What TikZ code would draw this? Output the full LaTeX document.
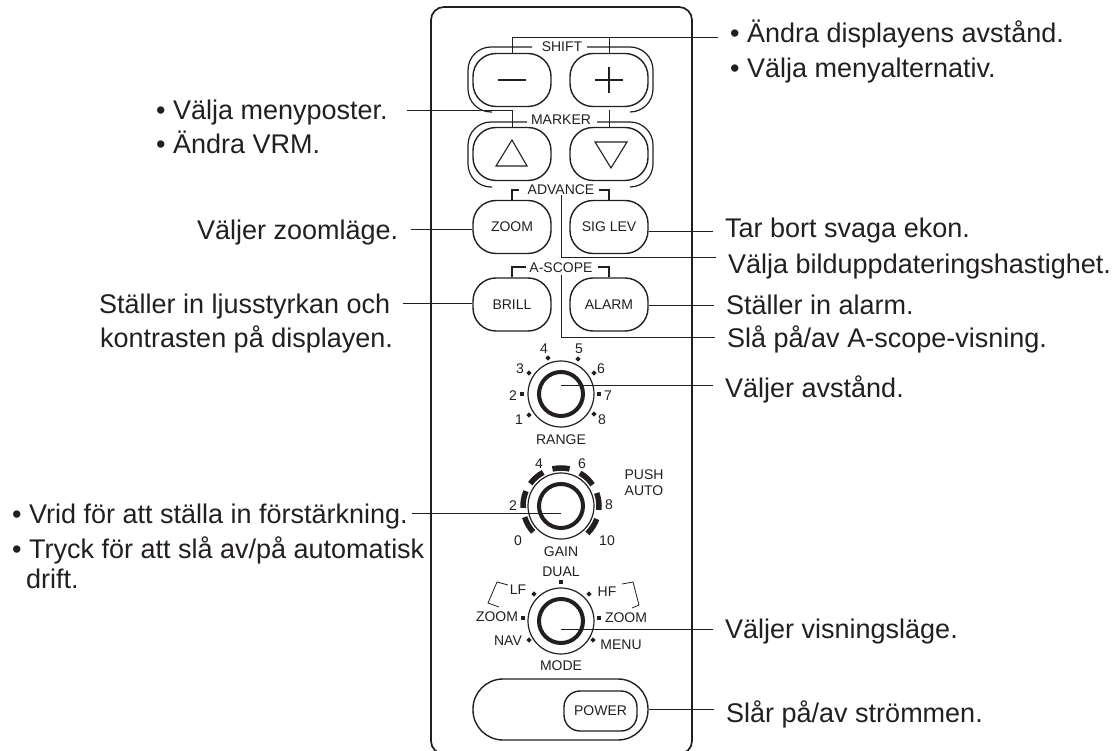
\documentclass[tikz,border=0pt]{standalone}
\usepackage{fontspec}
\setmainfont{Liberation Sans}
\definecolor{ink}{HTML}{231F20}
\tikzset{
    panel/.style={ink, line width=1.7pt, rounded corners=13pt},
    keybox/.style={draw=ink, line width=1.4pt, rounded corners=23pt, inner sep=0pt, minimum width=78pt, minimum height=53pt, text=ink, font=\fontsize{14}{16}\selectfont},
    ring/.style={ink, line width=1.2pt, rounded corners=23pt},
    bracket/.style={ink, line width=1.2pt},
    callout/.style={ink, line width=0.8pt},
    lbl/.style={inner sep=0pt, text=ink, font=\fontsize{14}{16}\selectfont},
    txt/.style={anchor=base west, inner ysep=0pt, inner xsep=12pt, text=ink, font=\fontsize{27}{30}\selectfont},
}
\begin{document}
\begin{tikzpicture}[x=1pt, y=-1pt]
    \clip (0,0) rectangle (1119,751);
    \draw[panel] (431,7) rectangle (692,754);

    % keys
    \node[keybox] (minusKey) at (512,80) {};
    \node[keybox] (plusKey) at (609,80) {};
    \node[keybox] (upKey) at (512,154) {};
    \node[keybox] (downKey) at (609,154) {};
    \node[keybox] (zoomKey) at (512,227) {ZOOM};
    \node[keybox] (sigKey) at (609,227) {SIG LEV};
    \node[keybox] (brillKey) at (512,304.5) {BRILL};
    \node[keybox] (alarmKey) at (609,304.5) {ALARM};
    \node[keybox, minimum width=175pt, minimum height=61pt, rounded corners=30pt] (powerBox) at (560.5,709.5) {};
    \node[keybox, minimum width=73pt, minimum height=40pt, rounded corners=16pt] (powerKey) at (600.5,711) {POWER};

    \foreach \y/\l/\r in {47/532/587,122/527/597}{
        \draw[ring] (\l,\y) -- (468,\y) -- (468,\y+65) -- (492,\y+65);
        \draw[ring] (\r,\y) -- (653,\y) -- (653,\y+65) -- (630,\y+65);
    }
    \draw[ink, line width=1.1pt] (498,80) -- (526,80);
    \draw[ink, line width=1.1pt] (595,80) -- (623,80) (609,67) -- (609,93);
    \draw[ink, line width=1.1pt] (512,140) -- (527,166) -- (496,166) -- cycle;
    \draw[ink, line width=1.1pt] (595,142) -- (627,142) -- (611,168) -- cycle;

    % group names
    \node[lbl] (shiftLbl) at (562,47) {SHIFT};
    \node[lbl] (markerLbl) at (561,120) {MARKER};
    \node[lbl] (advanceLbl) at (561,190) {ADVANCE};
    \node[lbl] (ascopeLbl) at (561,268) {A-SCOPE};
    \draw[bracket] (zoomKey.north) |- (519,190);
    \draw[bracket] (sigKey.north) |- (599,190);
    \draw[bracket] (brillKey.north) |- (526,267);
    \draw[bracket] (alarmKey.north) |- (598,267);

    % dials
    \coordinate (rangeC) at (561,394);
    \coordinate (gainC) at (561,506);
    \coordinate (modeC) at (561,621);
    \foreach \c in {rangeC,gainC,modeC}{
        \draw[ink, line width=1.2pt] (\c) circle (33pt);
        \draw[ink, line width=4pt] (\c) circle (22pt);
    }
    \foreach \a in {210,170,131,90,47,7,-33}{
        \draw[ink, line width=5.5pt] ([shift={(\a-13:38pt)}]gainC) arc[start angle=\a-13, end angle=\a+13, radius=38pt];
    }
    \foreach \x/\y in {522/394,599/394,561/582,523/618,599/618}{
        \fill[ink] (\x-2.3,\y-2.3) rectangle +(4.6,4.6);
    }
    \foreach \x/\y in {529/373,594/373,529/415,594/414,548/358,578/359,534/594,589/594,529/640,593/640}{
        \fill[ink] (\x,\y) ++(-2.6,0) -- ++(2.6,-2.6) -- ++(2.6,2.6) -- ++(-2.6,2.6) -- cycle;
    }
    \foreach \x/\y/\t in {544/349/4,579/349/5,520/369/3,601/369/6,513/396/2,608/396/7,519/420/1,602/420/8,561/440/RANGE,
        539/464/4,582/464/6,513/506/2,609/505/8,518/541/0,607/541/10,644/475/PUSH,644/491/AUTO,561/552/GAIN,
        561/572/DUAL,518/590/LF,607/592/HF,497/617/ZOOM,626/618/ZOOM,508/641/NAV,621/645/MENU,561/666/MODE}{
        \node[lbl] (lbl\x-\y) at (\x,\y) {\t};
    }
    \draw[bracket, line width=0.8pt] (508,585) -- (497,582) -- (488,603) -- (499,607);
    \draw[bracket, line width=0.8pt] (622,584) -- (633,582) -- (639,605) -- (632,608);

    % texts
    \node[txt] (dispTxt) at (718,43) {• Ändra displayens avstånd.};
    \node[txt] (menyTxt) at (718,78) {• Välja menyalternativ.};
    \node[txt, inner xsep=19pt] (posterTxt) at (137,120) {• Välja menyposter.};
    \node[txt] (vrmTxt) at (144,154) {• Ändra VRM.};
    \node[txt] (zoomTxt) at (185,240) {Väljer zoomläge.};
    \node[txt] (sigTxt) at (713,238) {Tar bort svaga ekon.};
    \node[txt] (bildTxt) at (716,274) {Välja bilduppdateringshastighet.};
    \node[txt] (brillTxt) at (87,314) {Ställer in ljusstyrkan och};
    \node[txt] (kontTxt) at (88,347) {kontrasten på displayen.};
    \node[txt] (alarmTxt) at (714,315) {Ställer in alarm.};
    \node[txt] (scopeTxt) at (715,348) {Slå på/av A-scope-visning.};
    \node[txt] (rangeTxt) at (713,397) {Väljer avstånd.};
    \node[txt, inner xsep=4pt] (vridTxt) at (8,523) {• Vrid för att ställa in förstärkning.};
    \node[txt, inner xsep=4pt] (tryckTxt) at (8,558) {• Tryck för att slå av/på automatisk};
    \node[txt, inner xsep=4pt] (driftTxt) at (22,588) {drift.};
    \node[txt] (modeTxt) at (713,638) {Väljer visningsläge.};
    \node[txt] (powerTxt) at (714,722) {Slår på/av strömmen.};

    % connectors
    \draw[callout] (minusKey.north) |- (dispTxt.west |- 0,37);
    \draw[callout] (plusKey.north) -- (plusKey.north |- 0,37);
    \draw[callout] (posterTxt.east |- 0,110) -| (upKey.north);
    \draw[callout] (downKey.north) -- (downKey.north |- 0,110);
    \draw[callout] (zoomTxt.east |- 0,229) -- (zoomKey.west |- 0,229);
    \draw[callout] (sigKey.east |- 0,231) -- (sigTxt.west |- 0,231);
    \draw[callout] (advanceLbl.south) |- (bildTxt.west |- 0,257);
    \draw[callout] (brillTxt.east |- 0,303) -- (brillKey.west |- 0,303);
    \draw[callout] (alarmKey.east |- 0,305) -- (alarmTxt.west |- 0,305);
    \draw[callout] ([yshift=-2pt]ascopeLbl.south) |- (scopeTxt.west |- 0,337);
    \draw[callout] (rangeC |- 0,385) -- (rangeTxt.west |- 0,385);
    \draw[callout] (vridTxt.east |- 0,513) -- (gainC |- 0,513);
    \draw[callout] (modeC |- 0,629) -- (modeTxt.west |- 0,629);
    \draw[callout] (powerBox.east) -- (powerBox.east -| powerTxt.west);
\end{tikzpicture}
\end{document}
